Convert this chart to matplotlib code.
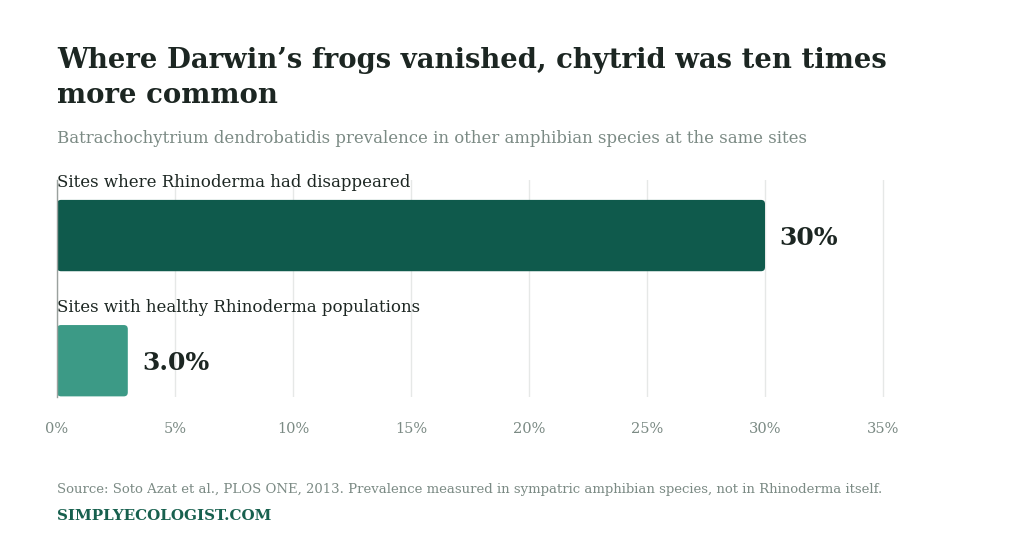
import matplotlib
matplotlib.use("Agg")
import matplotlib.pyplot as plt
from matplotlib.patches import FancyBboxPatch

# =========================
# DATA
# =========================
categories = ["Sites where Rhinoderma had disappeared",
              "Sites with healthy Rhinoderma populations"]
prevalence = [30.0, 3.0]
value_labels = ["30%", "3.0%"]
tick_values = [0, 5, 10, 15, 20, 25, 30, 35]
tick_labels = ["0%", "5%", "10%", "15%", "20%", "25%", "30%", "35%"]

TITLE_1 = "Where Darwin\u2019s frogs vanished, chytrid was ten times"
TITLE_2 = "more common"
SUBTITLE = "Batrachochytrium dendrobatidis prevalence in other amphibian species at the same sites"
SOURCE = ("Source: Soto Azat et al., PLOS ONE, 2013. Prevalence measured in "
          "sympatric amphibian species, not in Rhinoderma itself.")
BRAND = "SIMPLYECOLOGIST.COM"

# =========================
# STYLE
# =========================
SERIF = ["DejaVu Serif"]
DARK = "#1c2622"
GREY = "#7b8a84"
GRID = "#e6e8e7"
BAR_COLORS = ["#0f5a4c", "#3c9a86"]
BRAND_GREEN = "#17604e"

W, H = 1024, 538
fig = plt.figure(figsize=(W / 100, H / 100), dpi=100)
fig.patch.set_facecolor("white")

def fy(px):
    return 1 - px / H

# axes: 0% at x=57, 35% at x=883, top 180, bottom 397
px_x = (883 - 57) / 35.0
extra = 10  # px past the 35% line so its gridline shows
ax = fig.add_axes([57 / W, fy(397), (883 - 57 + extra) / W, (397 - 180) / H])
ax.set_facecolor("white")

bar_h = 0.57
ypos = list(range(len(categories)))
ax.set_xlim(0, 35 + extra / px_x)
ax.set_ylim(1.29, -0.444)

# rounded bars
px_y = (397 - 180) / (1.29 + 0.444)
r = 4.0 / px_x
for y, v, c in zip(ypos, prevalence, BAR_COLORS):
    p = FancyBboxPatch((0, y - bar_h / 2), v, bar_h,
                       boxstyle=f"round,pad=0,rounding_size={r}",
                       mutation_aspect=px_x / px_y,
                       facecolor=c, edgecolor="none", zorder=3)
    ax.add_patch(p)

for y, v, lab, cat in zip(ypos, prevalence, value_labels, categories):
    ax.text(v + 0.6, y + 0.02, lab, ha="left", va="center",
            fontsize=18, fontweight="bold", color=DARK, family=SERIF)
    ax.text(0, y - bar_h / 2 - 0.07, cat, ha="left", va="bottom",
            fontsize=12, color=DARK, family=SERIF, zorder=4)

ax.set_xticks(tick_values)
ax.set_xticklabels(tick_labels, family=SERIF, fontsize=10.5, color=GREY)
ax.set_yticks([])
ax.tick_params(axis="x", length=0, pad=18)
ax.grid(axis="x", color=GRID, linewidth=1, zorder=0)
ax.set_axisbelow(True)
for s in ["top", "right", "bottom"]:
    ax.spines[s].set_visible(False)
ax.spines["left"].set_color("#9aa19e")
ax.spines["left"].set_linewidth(1)
ax.spines["left"].set_zorder(5)

# =========================
# TEXT
# =========================
fig.text(57 / W, fy(68), TITLE_1, ha="left", va="baseline",
         fontsize=19.8, fontweight="bold", color=DARK, family=SERIF)
fig.text(57 / W, fy(103), TITLE_2, ha="left", va="baseline",
         fontsize=19.8, fontweight="bold", color=DARK, family=SERIF)
fig.text(57 / W, fy(143), SUBTITLE, ha="left", va="baseline",
         fontsize=11.85, color=GREY, family=SERIF)
fig.text(57 / W, fy(493), SOURCE, ha="left", va="baseline",
         fontsize=9.5, color=GREY, family=SERIF)
fig.text(57 / W, fy(520), BRAND, ha="left", va="baseline",
         fontsize=10.9, fontweight="bold", color=BRAND_GREEN, family=SERIF)

fig.savefig("out.png", dpi=100, facecolor="white")
